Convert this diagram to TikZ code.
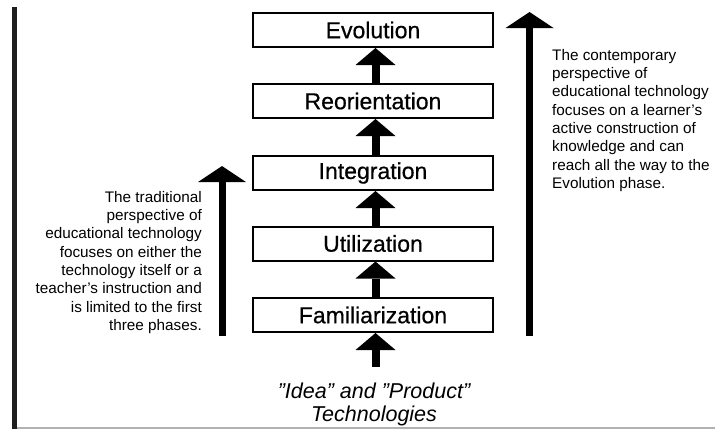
\documentclass[tikz,border=0pt]{standalone}
\usepackage{fontspec}
\setmainfont{Liberation Sans}
\newfontfamily\phasefont[FakeBold=0.6]{Liberation Sans}
\usetikzlibrary{arrows.meta}
\begin{document}
\begin{tikzpicture}[x=1pt,y=-1pt,
 phase/.style={draw, line width=2pt, minimum width=240pt, minimum height=34pt, inner sep=0pt, font=\phasefont\fontsize{23}{27}\selectfont},
 smallarrow/.style={line width=8pt, -{Triangle[width=40pt,length=17pt,line width=0pt]}},
 tallarrow/.style={line width=7pt, -{Triangle[width=48pt,length=16pt,line width=0pt]}},
 note/.style={inner sep=0pt, font=\fontsize{15.3}{18.3}\selectfont}
]
\useasboundingbox (0,0) rectangle (715,429);
% frame lines
\draw[line width=5pt, color=black!88] (14.8,7) -- (14.8,429);
\draw[line width=1.5pt, color=black!30] (17.3,428) -- (715,428);
% phases
\node[phase] (evo) at (373,30) {Evolution};
\node[phase] (reo) at (373,101) {Reorientation};
\node[phase] (int) at (373,173) {Integration};
\node[phase] (uti) at (373,243.5) {Utilization};
\node[phase] (fam) at (373,315) {Familiarization};
% small arrows
\draw[smallarrow] ([xshift=2.5pt]reo.north) -- ([xshift=2.5pt]evo.south);
\draw[smallarrow] ([xshift=2.5pt]int.north) -- ([xshift=2.5pt]reo.south);
\draw[smallarrow] ([xshift=2.5pt]uti.north) -- ([xshift=2.5pt]int.south);
\draw[smallarrow] ([xshift=2.5pt]fam.north) -- ([xshift=2.5pt]uti.south);
\coordinate (src0) at (375.5,367);
\draw[smallarrow] (src0) -- ([xshift=2.5pt]fam.south);
% source text
\node[font=\itshape\fontsize{21.5}{23}\selectfont, align=center, inner sep=0pt] (src) at (374,404) {\char34 Idea\char34{} and \char34 Product\char34\\Technologies};
% tall arrows
\coordinate (l0) at (222,336);
\coordinate (l1) at (222,166);
\draw[tallarrow] (l0) -- (l1);
\coordinate (r0) at (529.5,336);
\coordinate (r1) at (529.5,12);
\draw[tallarrow] (r0) -- (r1);
% notes
\node[note, anchor=north east, align=right] (lt) at (202,191) {The traditional\\perspective of\\educational technology\\focuses on either the\\technology itself or a\\teacher's instruction and\\is limited to the first\\three phases.};
\node[note, anchor=north west, align=left] (rt) at (552,49) {The contemporary\\perspective of\\educational technology\\focuses on a learner's\\active construction of\\knowledge and can\\reach all the way to the\\Evolution phase.};
\end{tikzpicture}
\end{document}
